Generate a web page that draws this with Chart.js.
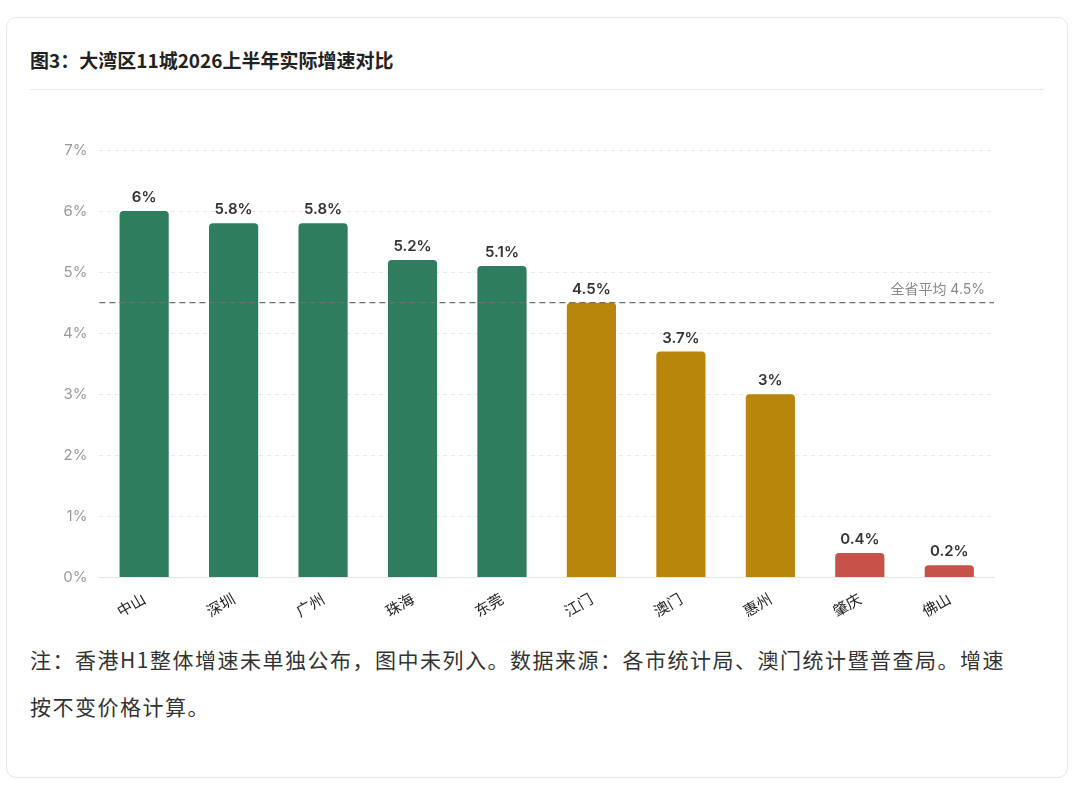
<!DOCTYPE html>
<html lang="zh-CN">
<head>
<meta charset="utf-8">
<title>大湾区11城2026上半年实际增速对比</title>
<script src="https://cdn.jsdelivr.net/npm/chart.js@4.4.1/dist/chart.umd.min.js"></script>
<style>
  html, body { margin: 0; padding: 0; background: #fff; }
  body { font-family: "Inter", "Noto Sans CJK SC", sans-serif; width: 1080px; height: 803px; position: relative; overflow: hidden; }
  .card {
    position: absolute; left: 6px; top: 17px; width: 1062px; height: 761px;
    border: 1px solid #e6e6e6; border-radius: 10px; box-sizing: border-box;
    padding: 30px 23px 0 23px;
  }
  .title {
    font-family: "Noto Sans CJK SC", sans-serif;
    font-size: 19px; font-weight: 700; color: #222; line-height: 24px;
    padding-bottom: 17px; border-bottom: 1px solid #eaeaea;
  }
  .chart-box { position: relative; height: 546px; }
  .note {
    font-family: "Noto Sans CJK SC", sans-serif;
    font-size: 21px; color: #333; line-height: 47px; width: 982px;
    letter-spacing: 1.5px;
  }
</style>
</head>
<body>
<div class="card">
  <div class="title">图3：大湾区11城2026上半年实际增速对比</div>
  <div class="chart-box"><canvas id="growthChart"></canvas></div>
  <div class="note">注：香港H1整体增速未单独公布，图中未列入。数据来源：各市统计局、澳门统计暨普查局。增速按不变价格计算。</div>
</div>
<script>
// 数据
const cities = ['中山', '深圳', '广州', '珠海', '东莞', '江门', '澳门', '惠州', '肇庆', '佛山'];
const growth = [6, 5.8, 5.8, 5.2, 5.1, 4.5, 3.7, 3, 0.4, 0.2];
const provinceAvg = 4.5;
const yTicks = [0, 1, 2, 3, 4, 5, 6, 7];

// 颜色分档
function barColor(v) {
  if (v > provinceAvg) return '#2e7d5e';
  if (v >= 1) return '#b8860b';
  return '#c6534a';
}

// 柱顶数值标签
const valueLabels = {
  id: 'valueLabels',
  afterDatasetsDraw(chart) {
    const ctx = chart.ctx;
    const meta = chart.getDatasetMeta(0);
    ctx.save();
    ctx.font = '600 15px Inter, "Noto Sans CJK SC", sans-serif';
    ctx.fillStyle = '#333';
    ctx.textAlign = 'center';
    ctx.textBaseline = 'bottom';
    meta.data.forEach((bar, i) => {
      ctx.fillText(growth[i] + '%', bar.x, bar.y - 6);
    });
    ctx.restore();
  }
};

// 全省平均线
const avgLine = {
  id: 'avgLine',
  afterDatasetsDraw(chart) {
    const { ctx, chartArea, scales } = chart;
    const y = scales.y.getPixelForValue(provinceAvg);
    ctx.save();
    ctx.strokeStyle = '#707070';
    ctx.lineWidth = 1.2;
    ctx.setLineDash([6, 4]);
    ctx.beginPath();
    ctx.moveTo(chartArea.left, y);
    ctx.lineTo(chartArea.right, y);
    ctx.stroke();
    ctx.setLineDash([]);
    ctx.font = '14px Inter, "Noto Sans CJK SC", sans-serif';
    ctx.fillStyle = '#888';
    ctx.textAlign = 'right';
    ctx.textBaseline = 'bottom';
    ctx.fillText('全省平均 ' + provinceAvg + '%', chartArea.right - 9, y - 6);
    ctx.restore();
  }
};

document.addEventListener('DOMContentLoaded', () => {
  const ctx = document.getElementById('growthChart');
  new Chart(ctx, {
    type: 'bar',
    data: {
      labels: cities,
      datasets: [{
        label: '实际增速',
        data: growth,
        backgroundColor: growth.map(barColor),
        borderRadius: 4,
        barPercentage: 0.55,
        categoryPercentage: 1
      }]
    },
    options: {
      responsive: true,
      maintainAspectRatio: false,
      animation: false,
      layout: { padding: { top: 60, left: 21, right: 50, bottom: 12 } },
      plugins: {
        legend: { display: false },
        tooltip: { enabled: false }
      },
      scales: {
        x: {
          grid: { display: false },
          border: { color: '#e6e6e6' },
          ticks: {
            color: '#222',
            font: { size: 15, family: '"Noto Sans CJK SC", sans-serif' },
            minRotation: 30,
            maxRotation: 30,
            padding: 4
          }
        },
        y: {
          min: 0,
          max: 7,
          afterBuildTicks(axis) {
            axis.ticks = yTicks.map(v => ({ value: v }));
          },
          grid: { color: '#e8e8e8', drawTicks: false },
          border: { display: false, dash: [4, 4] },
          ticks: {
            color: '#999',
            font: { size: 15, family: 'Inter, sans-serif' },
            padding: 12,
            callback: v => v + '%'
          }
        }
      }
    },
    plugins: [valueLabels, avgLine]
  });
});
</script>
</body>
</html>
